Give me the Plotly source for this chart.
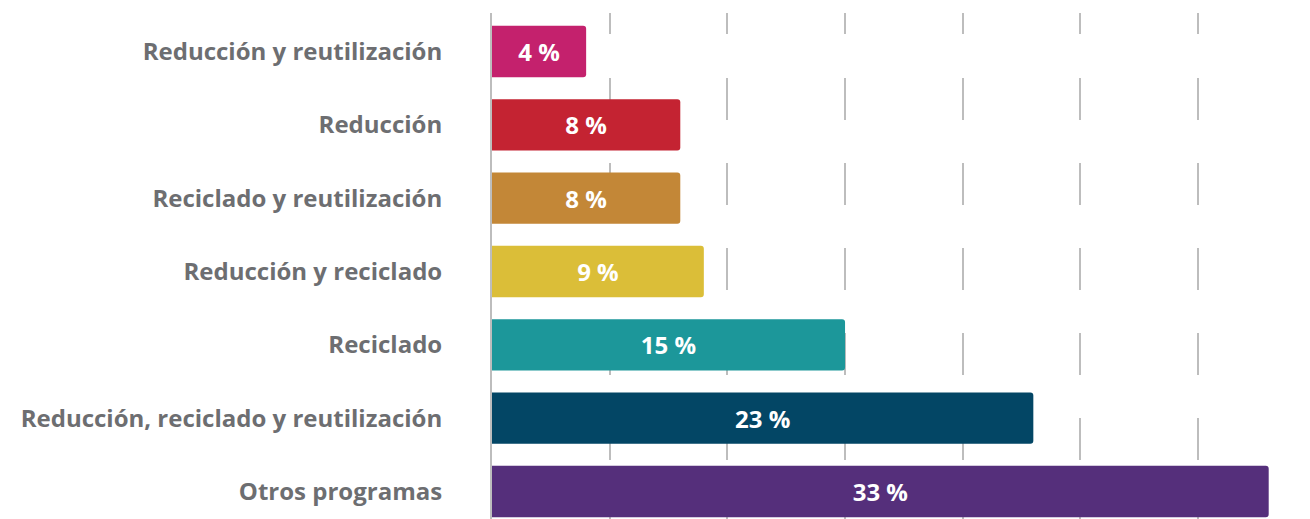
import plotly.graph_objects as go

categories = [
    "Reducción y reutilización",
    "Reducción",
    "Reciclado y reutilización",
    "Reducción y reciclado",
    "Reciclado",
    "Reducción, reciclado y reutilización",
    "Otros programas",
]
values = [4, 8, 8, 9, 15, 23, 33]
colors = ["#C4216D", "#C42332", "#C38737", "#DBBE38", "#1C979A", "#034665", "#552F7B"]
grid_ticks = [5, 10, 15, 20, 25, 30]

fig = go.Figure(
    go.Bar(
        x=values,
        y=categories,
        orientation="h",
        marker=dict(color=colors, line=dict(width=0)),
        width=0.7,
        text=[f"{v} %" for v in values],
        textposition="inside",
        insidetextanchor="middle",
        textangle=0,
        constraintext="none",
        textfont=dict(family="Open Sans", size=24, color="white", weight="bold"),
        hoverinfo="skip",
    )
)

fig.update_layout(
    width=1302,
    height=511,
    margin=dict(l=484, r=6, t=5, b=0),
    plot_bgcolor="white",
    paper_bgcolor="white",
    barcornerradius=3,
    showlegend=False,
    font=dict(family="Open Sans"),
)

fig.update_xaxes(
    range=[0, 34.5],
    tickvals=grid_ticks,
    showticklabels=False,
    showgrid=True,
    gridcolor="#BDBDBD",
    gridwidth=2,
    griddash="21px,44px,42px,43px,42px,43px,42px,43px,42px,43px,42px,43px,42px,43px",
    zeroline=False,
    showline=False,
)

fig.update_yaxes(
    categoryorder="array",
    categoryarray=categories,
    range=[6.375, -0.525],
    showgrid=False,
    showline=True,
    linecolor="#BDBDBD",
    linewidth=2,
    ticks="",
    ticklabelstandoff=43,
    tickfont=dict(family="Open Sans", size=24, color="#6D6E71", weight="bold"),
)

fig.write_html("out.html")
